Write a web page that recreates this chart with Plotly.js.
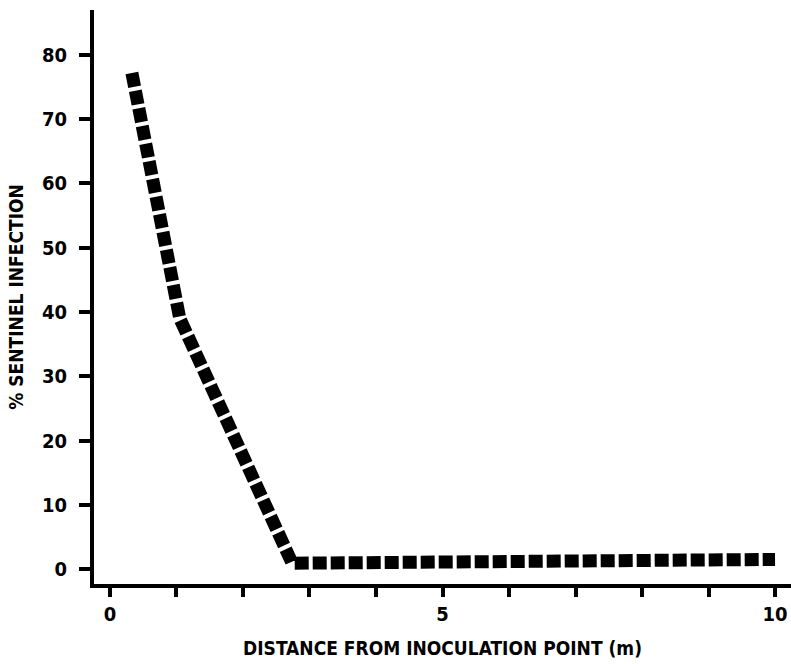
<!DOCTYPE html>
<html>
<head>
<meta charset="utf-8">
<script src="https://cdn.plot.ly/plotly-3.0.1.min.js"></script>
<style>
html,body{margin:0;padding:0;background:#fff;}
#chart{width:791px;height:664px;}
</style>
</head>
<body>
<div id="chart"></div>
<script>
// Data
const distance = [0.33, 0.72, 1.05, 2.74, 10.0];
const infection = [77.2, 55.5, 39.0, 0.9, 1.5];
const xTitle = "DISTANCE FROM INOCULATION POINT (m)";
const yTitle = "% SENTINEL INFECTION";

const fontFam = "'DejaVu Sans Condensed', 'DejaVu Sans', sans-serif";

const trace = {
  x: distance,
  y: infection,
  type: "scatter",
  mode: "lines",
  line: {color: "#000", width: 13, dash: "14px,4px"},
  hoverinfo: "skip",
  showlegend: false
};

const layout = {
  width: 791,
  height: 664,
  margin: {l: 94, r: 0, t: 10, b: 80},
  paper_bgcolor: "#fff",
  plot_bgcolor: "#fff",
  font: {family: fontFam, color: "#000"},
  xaxis: {
    range: [-0.24, 10.24],
    dtick: 5,
    tick0: 0,
    showgrid: false,
    zeroline: false,
    showline: true,
    linecolor: "#000",
    linewidth: 4,
    ticks: "outside",
    ticklen: 9,
    tickwidth: 4,
    tickcolor: "#000",
    minor: {dtick: 1, ticks: "outside", ticklen: 9, tickwidth: 4, tickcolor: "#000", showgrid: false},
    tickfont: {family: fontFam, size: 20, weight: "bold"},
    ticklabelstandoff: 0,
    ticklabeloverflow: "allow",
    title: {text: "<b>" + xTitle + "</b>", font: {family: fontFam, size: 19}, standoff: 18}
  },
  yaxis: {
    range: [-2.33, 87.0],
    dtick: 10,
    tick0: 0,
    showgrid: false,
    zeroline: false,
    showline: true,
    linecolor: "#000",
    linewidth: 4,
    ticks: "outside",
    ticklen: 11,
    tickwidth: 4,
    tickcolor: "#000",
    tickfont: {family: fontFam, size: 20, weight: "bold"},
    ticklabelstandoff: 8,
    title: {text: "<b>" + yTitle + "</b>", font: {family: fontFam, size: 19}, standoff: 14}
  }
};

Plotly.newPlot("chart", [trace], layout, {staticPlot: true, displayModeBar: false});
</script>
</body>
</html>
